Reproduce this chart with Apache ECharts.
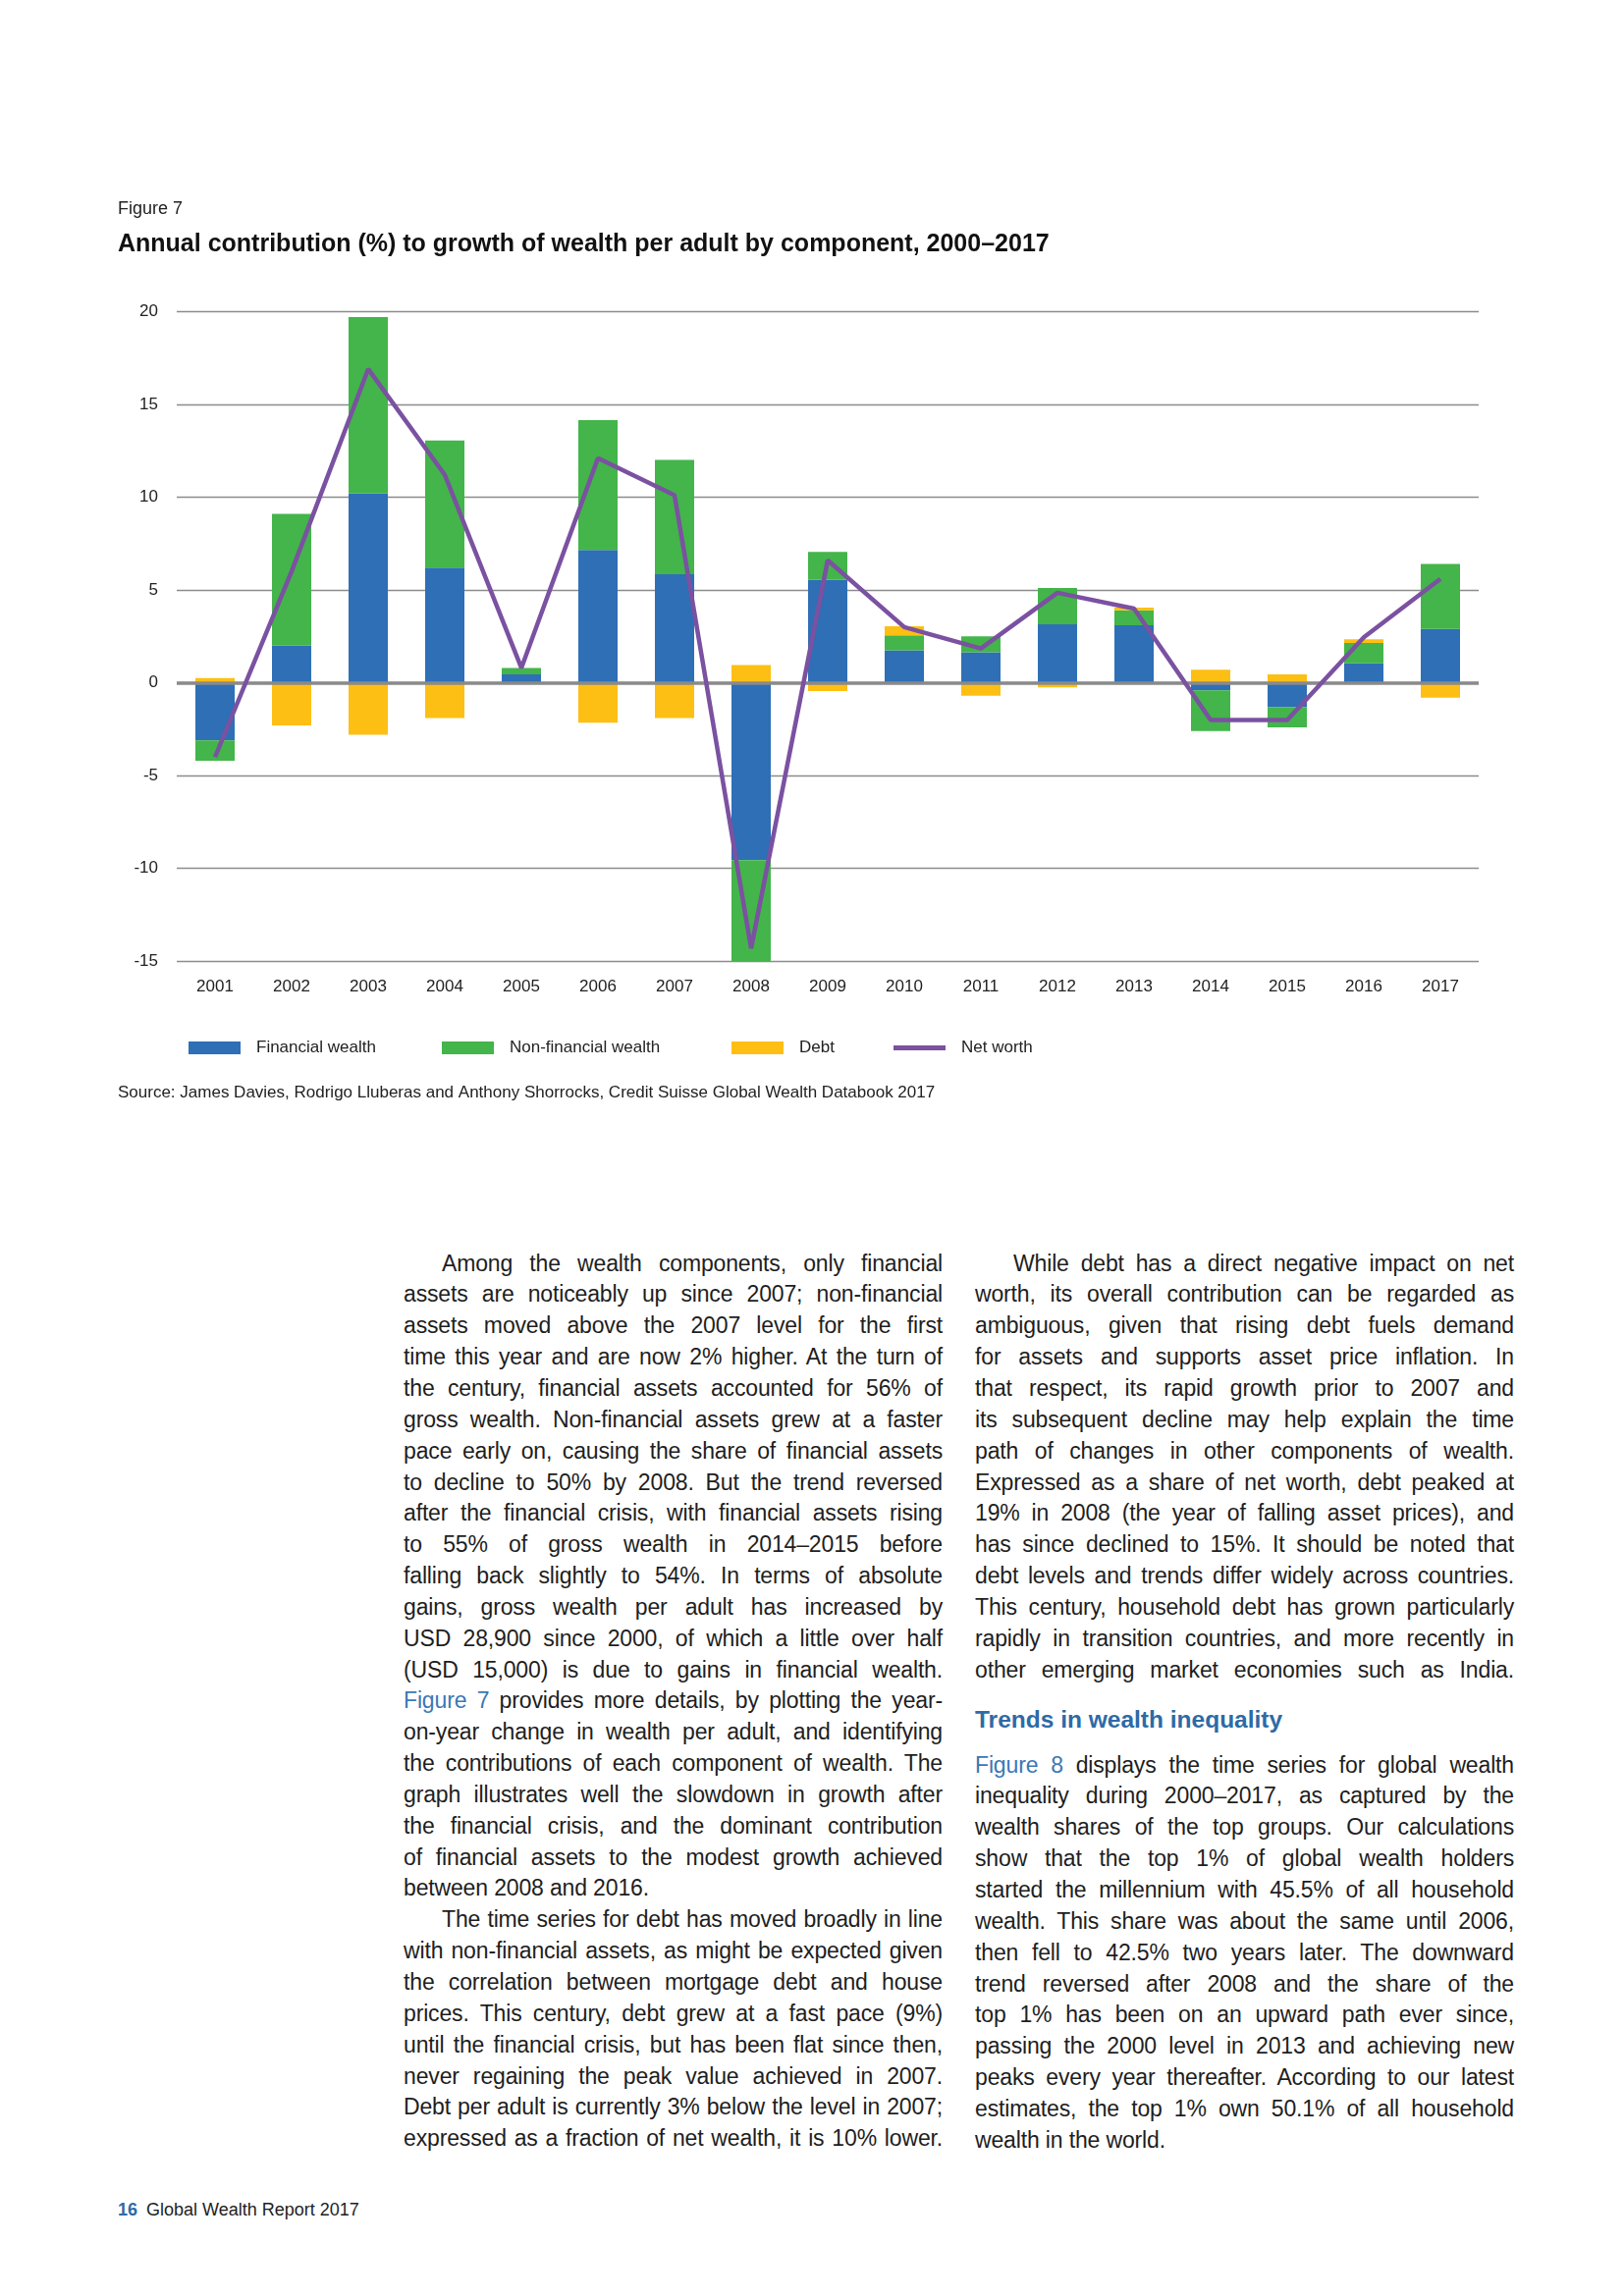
<!DOCTYPE html>
<html>
<head>
<meta charset="utf-8">
<script src="https://cdn.jsdelivr.net/npm/echarts@6/dist/echarts.min.js"></script>
<style>
  html, body { margin:0; padding:0; background:#fff; }
  body { width:1654px; height:2339px; position:relative; overflow:hidden;
         font-family:"Liberation Sans", Arial, Helvetica, sans-serif; color:#1e1e1e; }
  #chart { position:absolute; left:0; top:0; width:1654px; height:1160px; }
  .col { position:absolute; width:549px; font-size:23px; letter-spacing:-0.15px; }
  .ln { height:31.85px; line-height:31.85px; white-space:nowrap; text-align:justify; text-align-last:justify; }
  .ln.ind { padding-left:39px; }
  .ln.last { text-align-last:left; }
  .lk { color:#3b78b6; }
  .hd { position:absolute; left:993px; font-weight:bold; font-size:24.5px; color:#2e6aa6; line-height:32px; }
  .foot { position:absolute; left:120px; top:2240px; font-size:18px; line-height:22px; }
  .foot b { color:#2e6aa6; margin-right:9px; }
</style>
</head>
<body>
<div id="chart"></div>

<div class="col" id="colL" style="left:411px; top:1271.6px;"></div>
<div class="col" id="colR1" style="left:993px; top:1271.6px;"></div>
<div class="hd" style="top:1736px;">Trends in wealth inequality</div>
<div class="col" id="colR2" style="left:993px; top:1782.6px;"></div>
<div class="foot"><b>16</b>Global Wealth Report 2017</div>

<script>
// ---------- chart data ----------
const categories = ['2001','2002','2003','2004','2005','2006','2007','2008','2009','2010','2011','2012','2013','2014','2015','2016','2017'];
const financialWealth    = [-3.1, 2.0, 10.2, 6.2, 0.45, 7.15, 5.85, -9.55, 5.55, 1.75, 1.65, 3.15, 3.1, -0.4, -1.3, 1.05, 2.9];
const nonFinancialWealth = [-1.1, 7.1, 9.5, 6.85, 0.35, 7.0, 6.15, -5.5, 1.5, 0.8, 0.85, 1.95, 0.8, -2.2, -1.1, 1.1, 3.5];
const debt               = [0.25, -2.3, -2.8, -1.9, 0, -2.15, -1.9, 0.95, -0.45, 0.5, -0.7, -0.25, 0.15, 0.7, 0.45, 0.2, -0.8];
const netWorth           = [-4.0, 6.0, 16.9, 11.2, 0.8, 12.1, 10.1, -14.3, 6.6, 3.0, 1.85, 4.85, 4.0, -2.0, -2.0, 2.45, 5.6];
const yMin = -15, yMax = 20, yInterval = 5;
const seriesNames = ['Financial wealth', 'Non-financial wealth', 'Debt', 'Net worth'];

const FONT = '"Liberation Sans", Arial, Helvetica, sans-serif';
const C_BLUE = '#2E6FB6', C_GREEN = '#43B54A', C_YELLOW = '#FDBF14', C_PURPLE = '#7B51A1';

const chart = echarts.init(document.getElementById('chart'), null, {renderer:'canvas'});
const legendBase = { top:1059, padding:0, itemWidth:53, itemHeight:13, icon:'rect', selectedMode:false,
  textStyle:{ fontSize:17, color:'#222', fontFamily:FONT, padding:[0,0,0,11] } };

chart.setOption({
  animation:false,
  textStyle:{ fontFamily:FONT },
  title:[
    { text:'Figure 7', left:120, top:204, padding:0, textStyle:{ fontSize:18, fontWeight:'normal', color:'#222', fontFamily:FONT } },
    { text:'Annual contribution (%) to growth of wealth per adult by component, 2000–2017', left:120, top:237, padding:0,
      textStyle:{ fontSize:25, fontWeight:'bold', color:'#111', fontFamily:FONT } },
    { text:'Source: James Davies, Rodrigo Lluberas and Anthony Shorrocks, Credit Suisse Global Wealth Databook 2017',
      left:120, top:1104.5, padding:0, textStyle:{ fontSize:17, fontWeight:'normal', color:'#222', fontFamily:FONT } }
  ],
  legend:[
    Object.assign({}, legendBase, { left:192, data:[seriesNames[0]] }),
    Object.assign({}, legendBase, { left:450, data:[seriesNames[1]] }),
    Object.assign({}, legendBase, { left:745, data:[seriesNames[2]] }),
    Object.assign({}, legendBase, { left:910, itemHeight:5, data:[seriesNames[3]] })
  ],
  grid:{ left:180, top:317.3, width:1326, height:662 },
  xAxis:{
    type:'category', data:categories,
    axisLine:{ show:false, onZero:false }, axisTick:{ show:false },
    axisLabel:{ fontSize:17, color:'#222', margin:18, fontFamily:FONT }
  },
  yAxis:{
    type:'value', min:yMin, max:yMax, interval:yInterval,
    axisLine:{ show:false }, axisTick:{ show:false },
    axisLabel:{ fontSize:17, color:'#222', margin:19, fontFamily:FONT },
    splitLine:{ lineStyle:{ color:'#8c8c8c', width:1.3 } }
  },
  series:[
    { name:seriesNames[0], type:'bar', stack:'total', barWidth:40, data:financialWealth, itemStyle:{ color:C_BLUE } },
    { name:seriesNames[1], type:'bar', stack:'total', barWidth:40, data:nonFinancialWealth, itemStyle:{ color:C_GREEN } },
    { name:seriesNames[2], type:'bar', stack:'total', barWidth:40, data:debt, itemStyle:{ color:C_YELLOW },
      markLine:{ silent:true, symbol:'none', label:{ show:false },
        lineStyle:{ color:'#8a8a8a', width:3.5, type:'solid' }, data:[{ yAxis:0 }] } },
    { name:seriesNames[3], type:'line', data:netWorth, symbol:'none', z:5,
      lineStyle:{ color:C_PURPLE, width:4.5 }, itemStyle:{ color:C_PURPLE } }
  ]
});

// ---------- body text ----------
const leftLines = [
  ['ind','Among the wealth components, only financial'],
  ['','assets are noticeably up since 2007; non-financial'],
  ['','assets moved above the 2007 level for the first'],
  ['','time this year and are now 2% higher. At the turn of'],
  ['','the century, financial assets accounted for 56% of'],
  ['','gross wealth. Non-financial assets grew at a faster'],
  ['','pace early on, causing the share of financial assets'],
  ['','to decline to 50% by 2008. But the trend reversed'],
  ['','after the financial crisis, with financial assets rising'],
  ['','to 55% of gross wealth in 2014–2015 before'],
  ['','falling back slightly to 54%. In terms of absolute'],
  ['','gains, gross wealth per adult has increased by'],
  ['','USD 28,900 since 2000, of which a little over half'],
  ['','(USD 15,000) is due to gains in financial wealth.'],
  ['','<span class="lk">Figure 7</span> provides more details, by plotting the year-'],
  ['','on-year change in wealth per adult, and identifying'],
  ['','the contributions of each component of wealth. The'],
  ['','graph illustrates well the slowdown in growth after'],
  ['','the financial crisis, and the dominant contribution'],
  ['','of financial assets to the modest growth achieved'],
  ['last','between 2008 and 2016.'],
  ['ind','The time series for debt has moved broadly in line'],
  ['','with non-financial assets, as might be expected given'],
  ['','the correlation between mortgage debt and house'],
  ['','prices. This century, debt grew at a fast pace (9%)'],
  ['','until the financial crisis, but has been flat since then,'],
  ['','never regaining the peak value achieved in 2007.'],
  ['','Debt per adult is currently 3% below the level in 2007;'],
  ['','expressed as a fraction of net wealth, it is 10% lower.']
];
const rightLines1 = [
  ['ind','While debt has a direct negative impact on net'],
  ['','worth, its overall contribution can be regarded as'],
  ['','ambiguous, given that rising debt fuels demand'],
  ['','for assets and supports asset price inflation. In'],
  ['','that respect, its rapid growth prior to 2007 and'],
  ['','its subsequent decline may help explain the time'],
  ['','path of changes in other components of wealth.'],
  ['','Expressed as a share of net worth, debt peaked at'],
  ['','19% in 2008 (the year of falling asset prices), and'],
  ['','has since declined to 15%. It should be noted that'],
  ['','debt levels and trends differ widely across countries.'],
  ['','This century, household debt has grown particularly'],
  ['','rapidly in transition countries, and more recently in'],
  ['','other emerging market economies such as India.']
];
const rightLines2 = [
  ['','<span class="lk">Figure 8</span> displays the time series for global wealth'],
  ['','inequality during 2000–2017, as captured by the'],
  ['','wealth shares of the top groups. Our calculations'],
  ['','show that the top 1% of global wealth holders'],
  ['','started the millennium with 45.5% of all household'],
  ['','wealth. This share was about the same until 2006,'],
  ['','then fell to 42.5% two years later. The downward'],
  ['','trend reversed after 2008 and the share of the'],
  ['','top 1% has been on an upward path ever since,'],
  ['','passing the 2000 level in 2013 and achieving new'],
  ['','peaks every year thereafter. According to our latest'],
  ['','estimates, the top 1% own 50.1% of all household'],
  ['last','wealth in the world.']
];
function fill(id, lines) {
  document.getElementById(id).innerHTML =
    lines.map(l => '<div class="ln ' + l[0] + '">' + l[1] + '</div>').join('');
}
fill('colL', leftLines);
fill('colR1', rightLines1);
fill('colR2', rightLines2);
</script>
</body>
</html>
